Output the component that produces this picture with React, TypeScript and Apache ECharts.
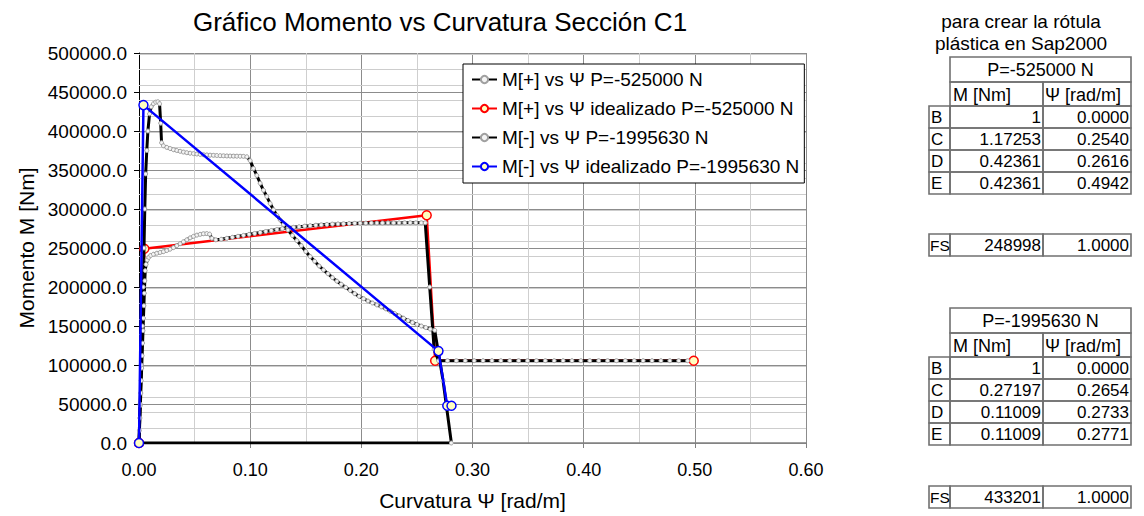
import React, { useEffect, useRef } from "react";
import * as echarts from "echarts";

const FONT = "'Liberation Sans', Arial, Helvetica, sans-serif";

const titleText = "Gráfico Momento vs Curvatura Sección C1";
const xAxisName = "Curvatura Ψ [rad/m]";
const yAxisName = "Momento M [Nm]";
const seriesNames = [
  "M[+] vs Ψ P=-525000 N",
  "M[+] vs Ψ idealizado P=-525000 N",
  "M[-] vs Ψ P=-1995630 N",
  "M[-] vs Ψ idealizado P=-1995630 N",
];

// M[+] vs Ψ, P=-525000 N
const psiPlus = [
  0, 0.0004, 0.0008, 0.0012, 0.0016, 0.002, 0.0024, 0.0028, 0.0032, 0.0036, 0.004, 0.0044, 0.0048, 0.0052,
  0.0056, 0.0064, 0.0074, 0.0088, 0.0105, 0.013, 0.016, 0.019, 0.022, 0.025, 0.028, 0.031, 0.034, 0.037,
  0.04, 0.043, 0.046, 0.049, 0.052, 0.055, 0.058, 0.061, 0.0635, 0.0655, 0.069, 0.074, 0.079, 0.084, 0.089,
  0.094, 0.099, 0.104, 0.109, 0.114, 0.119, 0.124, 0.129, 0.134, 0.139, 0.144, 0.149, 0.154, 0.159, 0.164,
  0.169, 0.174, 0.179, 0.184, 0.189, 0.194, 0.199, 0.204, 0.209, 0.214, 0.219, 0.224, 0.229, 0.234, 0.239,
  0.244, 0.249, 0.254, 0.2575, 0.2615, 0.2655, 0.2695, 0.2775, 0.2855, 0.2935, 0.3015, 0.3095, 0.3175,
  0.3255, 0.3335, 0.3415, 0.3495, 0.3575, 0.3655, 0.3735, 0.3815, 0.3895, 0.3975, 0.4055, 0.4135, 0.4215,
  0.4295, 0.4375, 0.4455, 0.4535, 0.4615, 0.4695, 0.4775, 0.4855, 0.4935,
];
const mPlus = [
  0, 16000, 32000, 48000, 64000, 80000, 96000, 112000, 128000, 144000, 160000, 176000, 192000, 208000,
  221000, 229000, 234500, 238000, 240500, 242000, 243300, 244300, 245300, 246800, 248500, 250500, 253000,
  255500, 258000, 260500, 263000, 265000, 266500, 267500, 268300, 268500, 267800, 262500, 260500, 261200,
  262400, 263700, 265000, 266200, 267500, 268700, 270000, 271200, 272500, 273700, 274800, 275700, 276500,
  277200, 278000, 278600, 279200, 279700, 280200, 280600, 280900, 281100, 281400, 281600, 281800, 281900,
  282000, 282000, 282100, 282200, 282200, 282200, 282300, 282300, 282300, 282300, 282300, 200000, 120000,
  105500, 105500, 105500, 105500, 105500, 105500, 105500, 105500, 105500, 105500, 105500, 105500, 105500,
  105500, 105500, 105500, 105500, 105500, 105500, 105500, 105500, 105500, 105500, 105500, 105500, 105500,
  105500, 105500, 105500,
];

// M[+] idealizado
const psiPlusIdeal = [0, 0.0048, 0.2588, 0.2664, 0.499];
const mPlusIdeal = [0, 248998, 291928, 105476, 105476];

// M[-] vs Ψ, P=-1995630 N
const psiMinus = [
  0, 0.001, 0.002, 0.003, 0.0038, 0.0045, 0.0052, 0.006, 0.007, 0.008, 0.0095, 0.011, 0.013, 0.015, 0.017,
  0.0185, 0.0195, 0.0203, 0.022, 0.025, 0.028, 0.031, 0.034, 0.037, 0.04, 0.043, 0.046, 0.049, 0.052,
  0.055, 0.058, 0.061, 0.064, 0.067, 0.07, 0.073, 0.076, 0.079, 0.082, 0.085, 0.088, 0.091, 0.094, 0.097,
  0.1, 0.103, 0.106, 0.109, 0.112, 0.115, 0.118, 0.121, 0.124, 0.127, 0.13, 0.134, 0.138, 0.142, 0.146,
  0.15, 0.154, 0.158, 0.162, 0.166, 0.17, 0.174, 0.178, 0.182, 0.186, 0.19, 0.194, 0.198, 0.202, 0.206,
  0.21, 0.214, 0.218, 0.222, 0.226, 0.23, 0.234, 0.238, 0.242, 0.246, 0.25, 0.254, 0.258, 0.262, 0.266,
  0.2735, 0.281, 0,
];
const mMinus = [
  0, 50000, 100000, 150000, 200000, 250000, 300000, 345000, 375000, 400000, 422000, 431000, 435000, 437000,
  437500, 435000, 410000, 385000, 381000, 379000, 377500, 376000, 375000, 374000, 373000, 372200, 371500,
  371000, 370500, 370000, 369600, 369300, 369000, 368800, 368600, 368400, 368200, 368000, 367900, 367800,
  367700, 367600, 367500, 367000, 362000, 352000, 343000, 333000, 324000, 316000, 307000, 299000, 292000,
  286000, 280000, 273000, 266000, 259500, 253000, 245500, 239000, 233000, 227000, 221800, 217000, 212000,
  207500, 203500, 199500, 195500, 191500, 188000, 185000, 182000, 179500, 177000, 174500, 172000, 169000,
  166000, 163000, 160000, 157000, 154500, 152000, 150000, 148000, 146000, 144500, 80000, 0, 0,
];

// M[-] idealizado
const psiMinusIdeal = [0, 0.004, 0.2694, 0.2773, 0.2811];
const mMinusIdeal = [0, 433201, 117818, 47691, 47691];

// worksheet rows showing through the plot area
const sheetRows = [
  18850, 38850, 58850, 78850, 98850, 118850, 138850, 158850, 178850, 198850, 218850, 238850, 258850,
  278850, 298850, 318850, 338850, 358850, 378850, 398850, 418850, 438850, 458850, 478850, 498850,
];

// tables
const tableNote = ["para crear la rótula", "plástica en Sap2000"];
const colHeads = ["M [Nm]", "Ψ [rad/m]"];
const table1Head = "P=-525000 N";
const table1Rows = [
  ["B", "1", "0.0000"],
  ["C", "1.17253", "0.2540"],
  ["D", "0.42361", "0.2616"],
  ["E", "0.42361", "0.4942"],
];
const table1FS = ["FS", "248998", "1.0000"];
const table2Head = "P=-1995630 N";
const table2Rows = [
  ["B", "1", "0.0000"],
  ["C", "0.27197", "0.2654"],
  ["D", "0.11009", "0.2733"],
  ["E", "0.11009", "0.2771"],
];
const table2FS = ["FS", "433201", "1.0000"];

const zip = (xs: number[], ys: number[]) => xs.map((x, i) => [x, ys[i]]);

const COLS = [929, 950, 1043, 1131];
const BORDER = "#707070";
const TFS = 17;

function cell(x: number, y: number, w: number, h: number) {
  return {
    type: "rect",
    shape: { x, y, width: w, height: h },
    style: { fill: "none", stroke: BORDER, lineWidth: 1.6 },
    silent: true,
  };
}
function txt(x: number, y: number, text: string, align: string, size = TFS) {
  return {
    type: "text",
    x,
    y,
    silent: true,
    style: {
      text,
      fill: "#000",
      fontSize: size,
      fontFamily: FONT,
      align,
      verticalAlign: "middle",
      textAlign: align,
      textVerticalAlign: "middle",
    },
  };
}

function buildTable(top: number, head: string, rows: string[][], fsTop: number, fs: string[]) {
  const els: any[] = [];
  const [c0, c1, c2, c3] = COLS;
  els.push(cell(c1, top, c3 - c1, 25));
  els.push(txt((c1 + c3) / 2, top + 13, head, "center", 18));
  const mTop = top + 25;
  els.push(cell(c1, mTop, c2 - c1, 24));
  els.push(cell(c2, mTop, c3 - c2, 24));
  els.push(txt(c1 + 3, mTop + 12.5, colHeads[0], "left", 18));
  els.push(txt(c2 + 2, mTop + 12.5, colHeads[1], "left", 18));
  const addRow = (y: number, r: string[]) => {
    els.push(cell(c0, y, c1 - c0, 22));
    els.push(cell(c1, y, c2 - c1, 22));
    els.push(cell(c2, y, c3 - c2, 22));
    const wide = r[0].length > 1;
    els.push(txt(c0 + (wide ? 1 : 2), y + 11.5, r[0], "left", wide ? 15.5 : TFS));
    els.push(txt(c2 - 2, y + 11.5, r[1], "right"));
    els.push(txt(c3 - 2, y + 11.5, r[2], "right"));
  };
  rows.forEach((r, i) => addRow(mTop + 24 + i * 22, r));
  addRow(fsTop, fs);
  return els;
}

export default function App() {
  const ref = useRef<HTMLDivElement>(null);
  useEffect(() => {
    if (!ref.current) return;
    const chart = echarts.init(ref.current, undefined, { renderer: "svg" });
    const smallMarker = {
      type: "line",
      symbol: "circle",
      symbolSize: 4,
      showSymbol: true,
      lineStyle: { color: "#000", width: 3 },
      itemStyle: { color: "#f4f4f4", borderColor: "#a0a0a0", borderWidth: 1 },
      z: 3,
    };
    const bigMarker = (c: string) => ({
      type: "line",
      symbol: "circle",
      symbolSize: 9,
      showSymbol: true,
      lineStyle: { color: c, width: 2.5 },
      itemStyle: { color: "#ffffc0", borderColor: c, borderWidth: 1.5 },
    });
    const option: any = {
      animation: false,
      backgroundColor: "#fff",
      textStyle: { fontFamily: FONT },
      title: {
        text: titleText,
        left: 435,
        top: 4,
        textAlign: "center",
        textStyle: { fontFamily: FONT, fontSize: 26, fontWeight: "normal", color: "#000" },
      },
      grid: { left: 139, top: 53, width: 667, height: 390, containLabel: false },
      legend: {
        data: seriesNames,
        orient: "vertical",
        left: 463,
        top: 64,
        z: 20,
        backgroundColor: "#fff",
        borderColor: "#000",
        borderWidth: 1,
        borderRadius: 0,
        padding: [6, 5, 7, 8],
        itemGap: 10,
        itemWidth: 25,
        itemHeight: 9,
        textStyle: { fontFamily: FONT, fontSize: 19, color: "#000" },
      },
      xAxis: {
        type: "value",
        min: 0,
        max: 0.6,
        interval: 0.1,
        name: xAxisName,
        nameLocation: "middle",
        nameGap: 47,
        nameTextStyle: { fontFamily: FONT, fontSize: 21, color: "#000" },
        axisLine: { show: true, onZero: false, lineStyle: { color: "#808080", width: 1.5 } },
        axisTick: { show: true, inside: false, length: 5, lineStyle: { color: "#808080" } },
        axisLabel: {
          fontFamily: FONT,
          fontSize: 18,
          color: "#000",
          margin: 18,
          formatter: (v: number) => v.toFixed(2),
        },
        splitLine: { show: true, lineStyle: { color: "#8c8c8c", width: 1 } },
        minorTick: { show: false, splitNumber: 2 },
        minorSplitLine: { show: true, lineStyle: { color: "#cfcfcf", width: 1 } },
      },
      yAxis: {
        type: "value",
        min: 0,
        max: 500000,
        interval: 50000,
        name: yAxisName,
        nameLocation: "middle",
        nameGap: 102,
        nameTextStyle: { fontFamily: FONT, fontSize: 21, color: "#000" },
        axisLine: { show: true, onZero: false, lineStyle: { color: "#000", width: 1 } },
        axisTick: { show: true, inside: false, length: 5, lineStyle: { color: "#000" } },
        axisLabel: {
          fontFamily: FONT,
          fontSize: 19,
          color: "#000",
          margin: 12,
          formatter: (v: number) => v.toFixed(1),
        },
        splitLine: { show: true, lineStyle: { color: "#8c8c8c", width: 1 } },
      },
      series: [
        {
          name: "sheet",
          type: "line",
          data: [[0, 0]],
          showSymbol: false,
          symbol: "none",
          lineStyle: { opacity: 0 },
          silent: true,
          z: 0,
          markLine: {
            silent: true,
            z: 1,
            symbol: "none",
            label: { show: false },
            lineStyle: { color: "#cdcdcd", width: 1, type: "solid" },
            data: sheetRows.map((v) => ({ yAxis: v })),
          },
        },
        { ...bigMarker("#ff0000"), name: seriesNames[1], data: zip(psiPlusIdeal, mPlusIdeal), z: 2 },
        { ...smallMarker, name: seriesNames[0], data: zip(psiPlus, mPlus) },
        { ...smallMarker, name: seriesNames[2], data: zip(psiMinus, mMinus) },
        { ...bigMarker("#0000ff"), name: seriesNames[3], data: zip(psiMinusIdeal, mMinusIdeal), z: 4 },
      ],
      graphic: [
        txt(1021, 21, tableNote[0], "center", 19),
        txt(1021, 43, tableNote[1], "center", 19),
        ...buildTable(57, table1Head, table1Rows, 234, table1FS),
        ...buildTable(308, table2Head, table2Rows, 486, table2FS),
      ],
    };
    chart.setOption(option);
    return () => chart.dispose();
  }, []);
  return <div ref={ref} style={{ width: 1144, height: 516, position: "absolute", left: 0, top: 0 }} />;
}
